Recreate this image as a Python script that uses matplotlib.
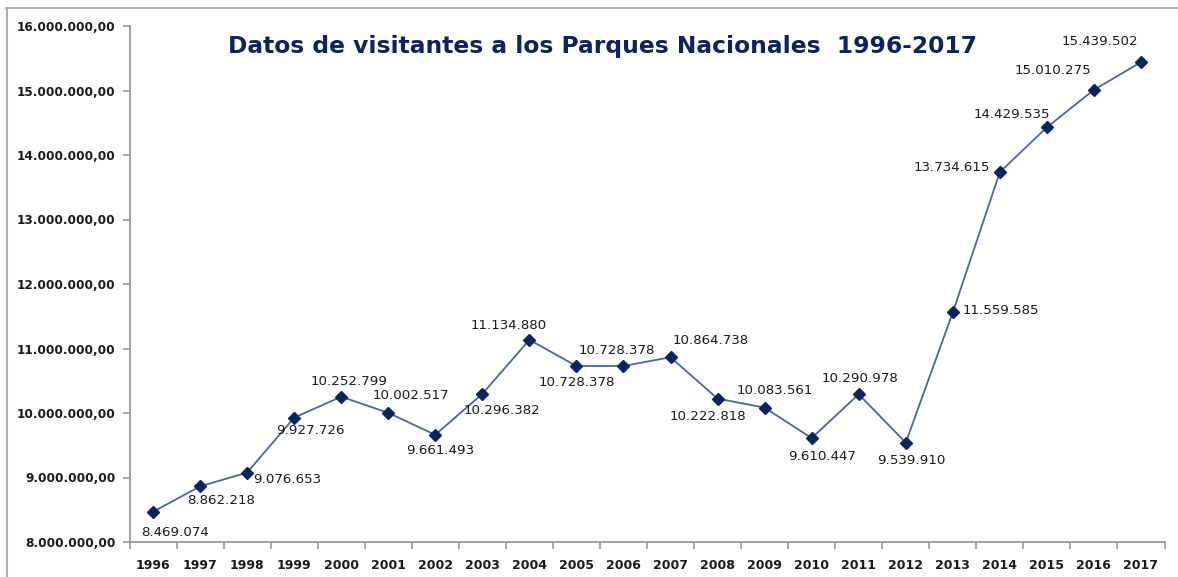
import matplotlib
matplotlib.use("Agg")
import matplotlib.pyplot as plt
from matplotlib.ticker import FuncFormatter
from matplotlib.lines import Line2D

years = [1996, 1997, 1998, 1999, 2000, 2001, 2002, 2003, 2004, 2005, 2006,
         2007, 2008, 2009, 2010, 2011, 2012, 2013, 2014, 2015, 2016, 2017]
visitors = [8469074, 8862218, 9076653, 9927726, 10252799, 10002517, 9661493,
            10296382, 11134880, 10728378, 10728378, 10864738, 10222818,
            10083561, 9610447, 10290978, 9539910, 11559585, 13734615,
            14429535, 15010275, 15439502]
title = "Datos de visitantes a los Parques Nacionales  1996-2017"

# label offsets in pixels (dx, dy) relative to each point (layout only)
label_offsets = [(22, -21), (21, -14), (40, -7), (16, -13), (8, 15), (23, 17),
                 (5, -16), (20, -17), (-21, 14), (0, -16), (-7, 16), (40, 17),
                 (-10, -18), (10, 17), (10, -18), (1, 16), (6, -18),
                 (48, 2), (-48, 5), (-35, 13), (-41, 19), (-41, 21)]

W, H = 1178, 577
dpi = 100
fig = plt.figure(figsize=(W / dpi, H / dpi), dpi=dpi)
fig.patch.set_facecolor("white")

x0, x1 = 129.5, 1164.5
y_top, y_bot = 26, 542
ax = fig.add_axes([x0 / W, 1 - y_bot / H, (x1 - x0) / W, (y_bot - y_top) / H])

xs = list(range(len(years)))
ax.plot(xs, visitors, color="#4a6896", lw=1.3, marker="D", markersize=6,
        markerfacecolor="#0b2360", markeredgecolor="#0b2360", zorder=3,
        clip_on=False)

ax.set_xlim(-0.5, len(years) - 0.5)
ax.set_ylim(8_000_000, 16_000_000)
ax.set_yticks(range(8_000_000, 16_000_001, 1_000_000))
ax.yaxis.set_major_formatter(FuncFormatter(
    lambda v, p: f"{int(v):,}".replace(",", ".") + ",00"))
ax.set_xticks(xs)
ax.set_xticklabels([str(y) for y in years])
ax.set_xticks([i - 0.5 for i in range(len(years) + 1)], minor=True)
ax.tick_params(axis="x", which="major", length=0, pad=12, labelsize=9.0,
               labelcolor="#1a1a1a")
ax.tick_params(axis="x", which="minor", length=5, color="#999999", width=1.2)
ax.tick_params(axis="y", length=5, color="#999999", width=1.2, pad=5,
               labelsize=8.7, labelcolor="#1a1a1a")
for lab in ax.get_xticklabels() + ax.get_yticklabels():
    lab.set_fontweight("bold")

for s in ["top", "right"]:
    ax.spines[s].set_visible(False)
for s in ["left", "bottom"]:
    ax.spines[s].set_color("#999999")
    ax.spines[s].set_linewidth(1.3)

for i, (v, off) in enumerate(zip(visitors, label_offsets)):
    ax.annotate(f"{v:,}".replace(",", "."), (i, v),
                xytext=(off[0] * 72 / dpi, off[1] * 72 / dpi),
                textcoords="offset points", ha="center", va="center",
                fontsize=9.6, color="#1a1a1a", annotation_clip=False)

fig.text(603 / W, 1 - 47 / H, title, ha="center", va="center",
         fontsize=16.8, fontweight="bold", color="#0b2360")

# outer chart frame
fig.add_artist(Line2D([6 / W, 1.0], [1 - 8 / H, 1 - 8 / H],
                      transform=fig.transFigure, color="#b0b0b0", lw=1.5))
fig.add_artist(Line2D([7 / W, 7 / W], [1 - 8 / H, 0.0],
                      transform=fig.transFigure, color="#b0b0b0", lw=1.5))

fig.savefig("out.png", dpi=dpi, facecolor="white")
